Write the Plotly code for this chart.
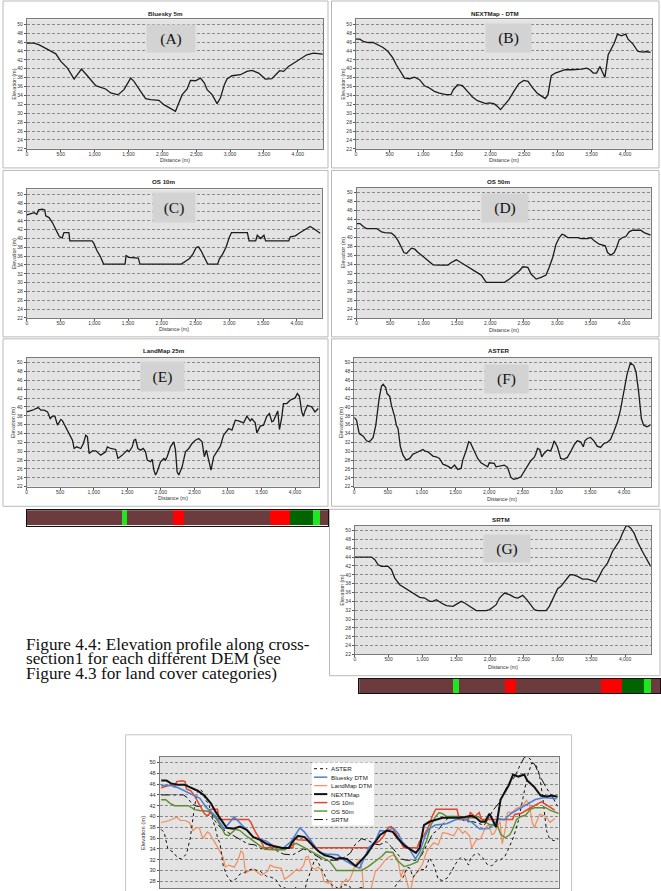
import plotly.graph_objects as go

W, H = 661, 891

# ---------------- data (distance in m, elevation in m) ----------------
bluesky_x = [0,108,182,255,378,427,501,599,697,805,893,1016,1090,1163,1237,1335,1360,1433,1532,1581,1679,1753,1826,1949,2022,2121,2194,2243,2293,2366,2415,2489,2563,2621,2661,2734,2808,2857,2916,2955,3029,3152,3250,3323,3422,3520,3618,3731,3790,3863,3937,4035,4133,4232,4369]
bluesky_y = [45.74,45.74,45.37,44.77,43.88,43.35,41.64,40.14,37.68,39.92,38.42,36.18,35.81,35.44,34.54,34.17,34.32,35.29,37.90,37.16,34.91,33.27,33.05,32.90,31.93,30.96,30.43,32.30,34.17,35.44,37.38,37.30,37.90,36.78,35.29,34.17,32.15,33.42,36.41,37.68,38.42,38.65,39.40,39.62,39.02,37.68,37.75,39.55,39.40,40.52,41.26,42.16,43.13,43.50,43.28]

nextmap_x = [0,59,108,182,256,330,403,477,551,600,659,723,797,871,945,1018,1092,1166,1240,1338,1412,1447,1510,1584,1658,1732,1806,1879,1929,1978,2052,2101,2150,2199,2273,2347,2421,2494,2558,2617,2691,2765,2814,2854,2903,2962,3036,3109,3208,3282,3355,3429,3478,3528,3577,3626,3660,3700,3749,3788,3838,3887,3946,4010,4044,4118,4192,4266,4315,4379]
nextmap_y = [46.64,46.64,46.12,45.89,45.89,45.37,44.77,43.87,42.38,40.89,39.39,37.90,37.75,38.12,37.53,36.18,35.66,34.91,34.54,34.16,34.16,35.28,36.40,36.18,34.91,33.64,32.82,32.52,32.15,32.30,32.15,31.55,30.80,31.70,33.04,34.91,36.63,37.38,37.15,35.88,34.54,33.79,33.27,34.16,38.42,39.02,39.39,39.77,39.77,39.77,39.92,40.14,39.77,39.02,39.02,40.51,39.39,38.05,43.13,44.25,45.74,47.76,47.39,47.76,46.64,45.52,43.87,43.72,43.87,43.65]

os10_x = [0,59,108,147,172,230,265,279,328,377,426,475,500,524,549,598,622,637,965,990,1039,1088,1137,1455,1470,1504,1651,1676,2288,2362,2411,2460,2509,2543,2582,2631,2680,2827,2852,2901,2950,2999,3033,3268,3293,3391,3415,3464,3513,3538,3881,3905,3979,4052,4126,4199,4248,4297,4346]
os10_y = [45.33,45.63,45.86,45.48,46.46,46.61,46.46,45.11,44.73,43.60,42.10,40.59,40.21,40.21,41.34,41.34,41.34,39.46,39.46,38.94,37.20,35.92,34.19,34.19,36.22,35.70,35.55,34.19,34.19,34.95,35.47,36.45,37.96,38.11,37.20,35.70,34.19,34.19,35.32,36.45,37.96,40.21,41.34,41.34,39.46,39.46,40.74,39.99,40.74,39.46,39.46,40.37,40.59,41.34,42.10,42.70,42.25,41.72,41.19]

os50_x = [0,50,99,149,298,373,422,522,572,621,671,706,746,770,820,870,919,994,1069,1143,1243,1367,1416,1491,1541,1640,1715,1789,1864,1938,2212,2286,2361,2435,2485,2560,2609,2684,2758,2833,2883,2932,2982,3032,3071,3106,3156,3305,3355,3454,3504,3554,3628,3678,3718,3752,3802,3852,3887,3926,3976,4026,4075,4125,4249,4299,4349,4398]
os50_y = [43.11,43.11,42.44,42.00,42.00,41.26,41.11,40.96,40.37,39.26,37.77,36.66,36.44,36.81,37.63,37.40,36.66,35.77,34.81,33.92,33.85,33.85,34.44,35.03,34.59,33.70,32.96,32.44,31.62,29.99,29.99,30.73,31.62,32.59,33.48,33.33,31.85,30.73,31.10,31.62,33.48,35.55,38.51,40.00,40.74,40.52,40.00,40.00,39.77,39.77,40.00,39.26,38.51,38.37,38.14,36.66,36.07,36.66,37.77,39.48,40.00,40.22,41.26,41.63,41.63,41.11,40.74,40.52]

landmap_x = [0,40,89,139,173,213,262,312,351,386,421,460,485,510,535,584,634,683,708,747,807,846,881,906,931,980,1030,1104,1178,1203,1252,1327,1361,1426,1500,1525,1574,1599,1624,1658,1698,1737,1772,1797,1846,1871,1896,1921,1945,1995,2044,2069,2094,2143,2193,2218,2242,2267,2317,2366,2416,2465,2515,2564,2614,2648,2678,2713,2747,2787,2836,2886,2935,3010,3059,3109,3158,3232,3282,3331,3356,3406,3430,3480,3529,3579,3618,3653,3678,3727,3742,3767,3802,3826,3876,3925,4000,4034,4064,4099,4123,4148,4183,4222,4247,4296,4346]
landmap_y = [38.89,39.04,39.26,39.64,39.86,39.26,39.26,38.89,37.38,37.91,37.91,35.88,36.63,37.16,36.86,35.51,34.00,32.50,30.62,31.00,30.62,31.75,33.63,33.25,29.50,30.10,30.10,29.12,29.87,31.00,30.62,30.40,28.37,29.12,30.25,29.87,31.00,32.50,32.65,30.62,30.25,30.62,29.87,28.00,27.62,28.15,25.74,24.62,25.37,27.62,28.37,28.00,28.75,31.00,32.13,30.25,25.37,24.62,26.49,29.87,30.62,31.75,32.50,32.88,32.13,28.75,30.25,28.00,25.74,28.75,29.87,31.15,33.63,35.13,34.75,37.01,36.86,36.41,37.91,36.86,37.31,36.41,34.15,35.66,35.88,37.91,38.51,36.63,36.86,38.51,39.11,34.90,37.76,40.76,40.76,41.51,42.04,43.02,42.41,38.89,37.91,39.11,40.39,40.16,40.01,38.89,39.64]

aster_x = [0,34,74,133,182,221,256,280,320,354,369,403,428,467,487,526,551,600,625,649,684,723,772,822,871,920,969,1018,1043,1092,1166,1215,1264,1314,1387,1437,1486,1535,1584,1609,1658,1697,1722,1766,1830,1879,1929,1978,2002,2076,2101,2175,2224,2273,2322,2362,2421,2470,2519,2568,2617,2667,2691,2716,2750,2780,2814,2863,2913,2937,2962,3011,3060,3109,3159,3208,3257,3306,3355,3395,3419,3454,3503,3552,3601,3651,3700,3749,3798,3847,3897,3946,3995,4044,4093,4143,4177,4216,4256,4290,4339,4389]
aster_y = [37.61,37.01,34.00,33.40,32.35,32.13,32.65,33.10,35.88,40.01,41.89,44.67,45.12,44.37,43.02,42.41,40.39,37.76,35.88,35.13,31.00,29.12,28.00,28.37,29.35,29.65,30.10,30.40,30.10,29.87,28.90,28.75,28.37,27.09,26.64,26.12,26.87,25.89,26.12,28.00,30.10,32.13,31.90,30.40,28.37,27.39,26.87,26.49,27.39,27.24,26.49,26.72,26.87,26.34,24.09,23.64,23.86,24.24,25.37,26.72,27.85,28.60,29.35,30.62,30.40,28.75,29.50,30.25,30.10,31.00,32.35,31.00,28.37,28.15,28.60,29.87,31.37,32.35,32.13,31.00,32.35,32.88,33.10,32.35,31.15,30.85,31.75,31.98,32.65,34.38,36.41,39.26,43.39,47.37,49.92,49.40,47.90,43.39,37.38,35.88,35.51,35.88]

srtm_x = [0,246,295,344,394,492,541,590,664,738,812,886,959,1033,1107,1156,1205,1279,1353,1451,1525,1574,1624,1697,1796,1943,1993,2042,2091,2140,2214,2288,2362,2411,2460,2485,2544,2608,2657,2706,2829,2878,2937,3001,3050,3124,3183,3223,3296,3370,3444,3518,3567,3616,3665,3739,3813,3862,3911,3961,4010,4034,4084,4133,4182,4256,4330,4379]
srtm_y = [43.99,43.99,43.39,42.26,41.89,41.89,41.14,39.26,37.76,37.01,36.26,35.51,34.90,34.75,34.00,34.00,34.38,33.63,33.03,32.88,33.63,34.00,33.63,32.88,31.90,31.90,32.13,32.65,33.25,34.75,35.88,35.51,34.90,34.75,35.13,35.36,34.38,33.10,32.13,31.90,31.90,32.88,34.75,36.86,37.38,38.89,40.01,40.01,39.64,39.04,39.04,38.66,38.36,39.64,41.14,42.64,45.27,46.40,47.52,49.40,50.90,51.13,50.53,49.40,47.52,45.27,43.39,41.89]

# land cover along the section (distance along bar, m)
land_start = [0, 1411, 1496, 2184, 2346, 3625, 3928, 4266, 4373]
land_end = [1411, 1496, 2184, 2346, 3625, 3928, 4266, 4373, 4500]
land_class = ["Built-up", "Grassland", "Built-up", "Arable", "Built-up", "Arable", "Woodland", "Grassland", "Built-up"]

panel_titles = ["Bluesky 5m", "NEXTMap - DTM", "OS 10m", "OS 50m", "LandMap 25m", "ASTER", "SRTM"]
panel_tags = ["(A)", "(B)", "(C)", "(D)", "(E)", "(F)", "(G)"]
x_ticks = [0, 500, 1000, 1500, 2000, 2500, 3000, 3500, 4000]

legend_names = ["ASTER", "Bluesky DTM", "LandMap DTM", "NEXTMap", "OS 10m", "OS 50m", "SRTM"]

caption_lines = ["Figure 4.4: Elevation profile along cross-",
                 "section1 for each different DEM (see",
                 "Figure 4.3 for land cover categories)"]

# ---------------- styling / layout ----------------
SANS = "Liberation Sans, Arial, sans-serif"
SERIF = "Liberation Serif, Times New Roman, serif"
PLOT_BG = "#e3e3e3"
GRID = "#8a8a8a"
AXLINE = "#7a7a7a"

land_colours = {"Built-up": "#6b3b3d", "Grassland": "#1fe61f", "Arable": "#ff0000", "Woodland": "#006400"}


def xd(a, b):
    return [a / W, b / W]


def yd(top, bottom):
    return [1 - bottom / H, 1 - top / H]


def px(x):
    return x / W


def py(y):
    return 1 - y / H


series = [
    (bluesky_x, bluesky_y), (nextmap_x, nextmap_y), (os10_x, os10_y), (os50_x, os50_y),
    (landmap_x, landmap_y), (aster_x, aster_y), (srtm_x, srtm_y),
]

# (plot box l, r, t, b), x max, tag box (cx, cy, w, h), title (cx, cy), y-title x, x-title y, frame (x0,x1,y0,y1)
geom = [
    ((26.0, 323.3, 19.4, 149.3), 4377, (170.8, 38.7, 48, 27), (165.3, 13.3), 12.7, 161.0, (2, 328, 1, 168.5)),
    ((356.0, 652.7, 19.4, 149.3), 4396, (509.5, 38.0, 45, 28), (495.3, 13.3), 342.7, 161.0, (331.5, 660, 1, 168.5)),
    ((26.0, 321.7, 190.1, 319.0), 4370, (173.8, 208.7, 42, 29), (163.3, 181.7), 12.7, 330.0, (2, 328, 171, 338)),
    ((356.7, 651.7, 188.4, 319.3), 4398, (505.8, 209.2, 46, 28), (499.3, 181.7), 343.3, 331.5, (331.5, 660, 171, 338)),
    ((25.7, 319.3, 359.0, 488.3), 4361, (161.7, 377.8, 43, 29), (163.3, 351.7), 12.0, 499.5, (2, 328, 340, 508)),
    ((354.3, 651.7, 359.0, 488.3), 4395, (506.7, 380.5, 43, 28), (500.0, 351.7), 341.0, 500.5, (331.5, 660, 340, 508)),
    ((355.0, 651.7, 527.4, 656.7), 4379, (507.2, 550.3, 46, 27), (501.7, 521.7), 341.7, 669.0, (329.5, 661, 511, 678)),
]

fig = go.Figure()
layout = dict(
    width=W, height=H, autosize=False,
    margin=dict(l=0, r=0, t=0, b=0, pad=0),
    paper_bgcolor="white", plot_bgcolor=PLOT_BG,
    showlegend=False, barmode="overlay", bargap=0,
)
annotations = []
shapes = []

for i, ((xs, ys), title, tag, g) in enumerate(zip(series, panel_titles, panel_tags, geom), start=1):
    (l, r, t, b), xmax, tagbox, tpos, ytx, xty, frame = g
    sfx = "" if i == 1 else str(i)
    fig.add_trace(go.Scatter(x=xs, y=ys, mode="lines", line=dict(color="#1c1c1c", width=1.3),
                             xaxis="x" + sfx, yaxis="y" + sfx, hoverinfo="skip"))
    layout["xaxis" + sfx] = dict(
        domain=xd(l, r), range=[0, xmax], anchor="y" + sfx,
        tickvals=x_ticks, tickformat=",d", ticks="outside", ticklen=2, tickwidth=0.8, tickcolor="#555",
        tickfont=dict(family=SANS, size=5.0, color="#333"),
        showline=True, mirror=True, linecolor=AXLINE, linewidth=1,
        showgrid=False, zeroline=False, fixedrange=True,
    )
    layout["yaxis" + sfx] = dict(
        domain=yd(t, b), range=[22, 51.1], anchor="x" + sfx,
        tick0=22, dtick=2, ticks="outside", ticklen=2, tickwidth=0.8, tickcolor="#555",
        tickfont=dict(family=SANS, size=5.0, color="#333"),
        showline=True, mirror=True, linecolor=AXLINE, linewidth=1,
        showgrid=True, gridcolor=GRID, gridwidth=0.6, griddash="3px,2px",
        zeroline=False, fixedrange=True,
    )
    # panel frame
    fx0, fx1, fy0, fy1 = frame
    shapes.append(dict(type="rect", xref="paper", yref="paper", x0=px(fx0), x1=px(fx1), y0=py(fy1), y1=py(fy0),
                       line=dict(color="#b9b9b9", width=1), fillcolor="rgba(0,0,0,0)", layer="below"))
    # title
    annotations.append(dict(text="<b>%s</b>" % title, x=px(tpos[0]), y=py(tpos[1]), xref="paper", yref="paper",
                            xanchor="center", yanchor="middle", showarrow=False,
                            font=dict(family=SANS, size=6.2, color="#222")))
    # axis titles
    annotations.append(dict(text="Distance (m)", x=px((l + r) / 2), y=py(xty), xref="paper", yref="paper",
                            xanchor="center", yanchor="middle", showarrow=False,
                            font=dict(family=SANS, size=5.3, color="#333")))
    annotations.append(dict(text="Elevation (m)", x=px(ytx), y=py((t + b) / 2), xref="paper", yref="paper",
                            xanchor="center", yanchor="middle", showarrow=False, textangle=-90,
                            font=dict(family=SANS, size=5.3, color="#333")))
    # tag box
    cx, cy, bw, bh = tagbox
    annotations.append(dict(text=tag, x=px(cx), y=py(cy), xref="paper", yref="paper",
                            xanchor="center", yanchor="middle", showarrow=False,
                            width=bw, height=bh, bgcolor="#d3d3d3", borderpad=0,
                            font=dict(family=SERIF, size=15.5, color="#111")))

# ---------------- combined chart ----------------
combo_style = {
    "ASTER": dict(color="#111111", width=1.0, dash="dot"),
    "Bluesky DTM": dict(color="#4a7fd6", width=1.5, dash="solid"),
    "LandMap DTM": dict(color="#f28d5e", width=1.2, dash="solid"),
    "NEXTMap": dict(color="#111111", width=2.0, dash="solid"),
    "OS 10m": dict(color="#e8442c", width=1.5, dash="solid"),
    "OS 50m": dict(color="#5d8c2c", width=1.4, dash="solid"),
    "SRTM": dict(color="#111111", width=1.0, dash="dashdot"),
}
combo_series = {
    "ASTER": (aster_x, aster_y), "Bluesky DTM": (bluesky_x, bluesky_y), "LandMap DTM": (landmap_x, landmap_y),
    "NEXTMap": (nextmap_x, nextmap_y), "OS 10m": (os10_x, os10_y), "OS 50m": (os50_x, os50_y),
    "SRTM": (srtm_x, srtm_y),
}
draw_order = ["LandMap DTM", "ASTER", "SRTM", "OS 50m", "OS 10m", "Bluesky DTM", "NEXTMap"]
for name in draw_order:
    xs, ys = combo_series[name]
    fig.add_trace(go.Scatter(x=xs, y=ys, mode="lines", name=name, line=combo_style[name],
                             xaxis="x8", yaxis="y8", hoverinfo="skip"))
layout["xaxis8"] = dict(domain=xd(159.3, 559.3), range=[-15, 4390], anchor="y8", showticklabels=False,
                        ticks="", showline=True, mirror=True, linecolor=AXLINE, showgrid=False,
                        zeroline=False, fixedrange=True)
layout["yaxis8"] = dict(domain=[0, py(759.3)], range=[26.76, 51.06], anchor="x8",
                        tick0=22, dtick=2, ticks="outside", ticklen=2, tickwidth=0.8, tickcolor="#555",
                        tickfont=dict(family=SANS, size=5.6, color="#333"),
                        showline=True, mirror=True, linecolor=AXLINE, showgrid=True, gridcolor=GRID,
                        gridwidth=0.6, griddash="3px,2px", zeroline=False, fixedrange=True)
shapes.append(dict(type="rect", xref="paper", yref="paper", x0=px(125), x1=px(572.3), y0=-0.02, y1=py(737.3),
                   line=dict(color="#c4c4c4", width=1), fillcolor="rgba(0,0,0,0)", layer="below"))
annotations.append(dict(text="Elevation (m)", x=px(142.3), y=py(836), xref="paper", yref="paper",
                        xanchor="center", yanchor="middle", showarrow=False, textangle=-90,
                        font=dict(family=SANS, size=5.8, color="#333")))
# legend box drawn manually
shapes.append(dict(type="rect", xref="paper", yref="paper", x0=px(311.7), x1=px(374), y0=py(828.3), y1=py(765),
                   line=dict(color="#ffffff", width=0), fillcolor="#ffffff", layer="above"))
for k, name in enumerate(legend_names):
    yy = 771.3 + 8.5 * k
    st = combo_style[name]
    shapes.append(dict(type="line", xref="paper", yref="paper", x0=px(314), x1=px(327.3), y0=py(yy), y1=py(yy),
                       line=dict(color=st["color"], width=st["width"], dash=st["dash"]), layer="above"))
    annotations.append(dict(text=name, x=px(329.3), y=py(yy), xref="paper", yref="paper",
                            xanchor="left", yanchor="middle", showarrow=False,
                            font=dict(family=SANS, size=6.2, color="#222")))

# ---------------- land cover bars ----------------
bars = [("x9", "y9", (26, 328.3, 512, 527.5)), ("x10", "y10", (359.3, 661.6, 681, 695.7))]
for xa, ya, (l, r, t, b) in bars:
    for s, e, c in zip(land_start, land_end, land_class):
        fig.add_trace(go.Bar(x=[e - s], y=[0], base=[s], orientation="h", width=1,
                             marker=dict(color=land_colours[c], line=dict(width=0)),
                             xaxis=xa, yaxis=ya, hoverinfo="skip", name=c))
    n = xa[1:]
    layout["xaxis" + n] = dict(domain=[max(0, l / W), min(1, r / W)], range=[0, 4500], anchor=ya,
                               showticklabels=False, ticks="", showgrid=False, zeroline=False,
                               showline=True, mirror=True, linecolor="#111", linewidth=1.2, fixedrange=True)
    layout["yaxis" + n] = dict(domain=yd(t, b), range=[-0.5, 0.5], anchor=xa,
                               showticklabels=False, ticks="", showgrid=False, zeroline=False,
                               showline=True, mirror=True, linecolor="#111", linewidth=1.2, fixedrange=True)

# ---------------- caption ----------------
for k, line in enumerate(caption_lines):
    annotations.append(dict(text=line, x=px(22.7), y=py(646.5 + 14.4 * k), xref="paper", yref="paper",
                            xanchor="left", yanchor="middle", showarrow=False,
                            font=dict(family=SERIF, size=17.2, color="#111")))

layout["annotations"] = annotations
layout["shapes"] = shapes
fig.update_layout(**layout)

# pull x tick labels closer to the axis (as in the reference)
for i in range(1, 8):
    sfx = "" if i == 1 else str(i)
    try:
        fig.layout["xaxis" + sfx].ticklabelstandoff = -2
    except Exception:
        pass

fig.write_html("out.html", config={"displayModeBar": False})
